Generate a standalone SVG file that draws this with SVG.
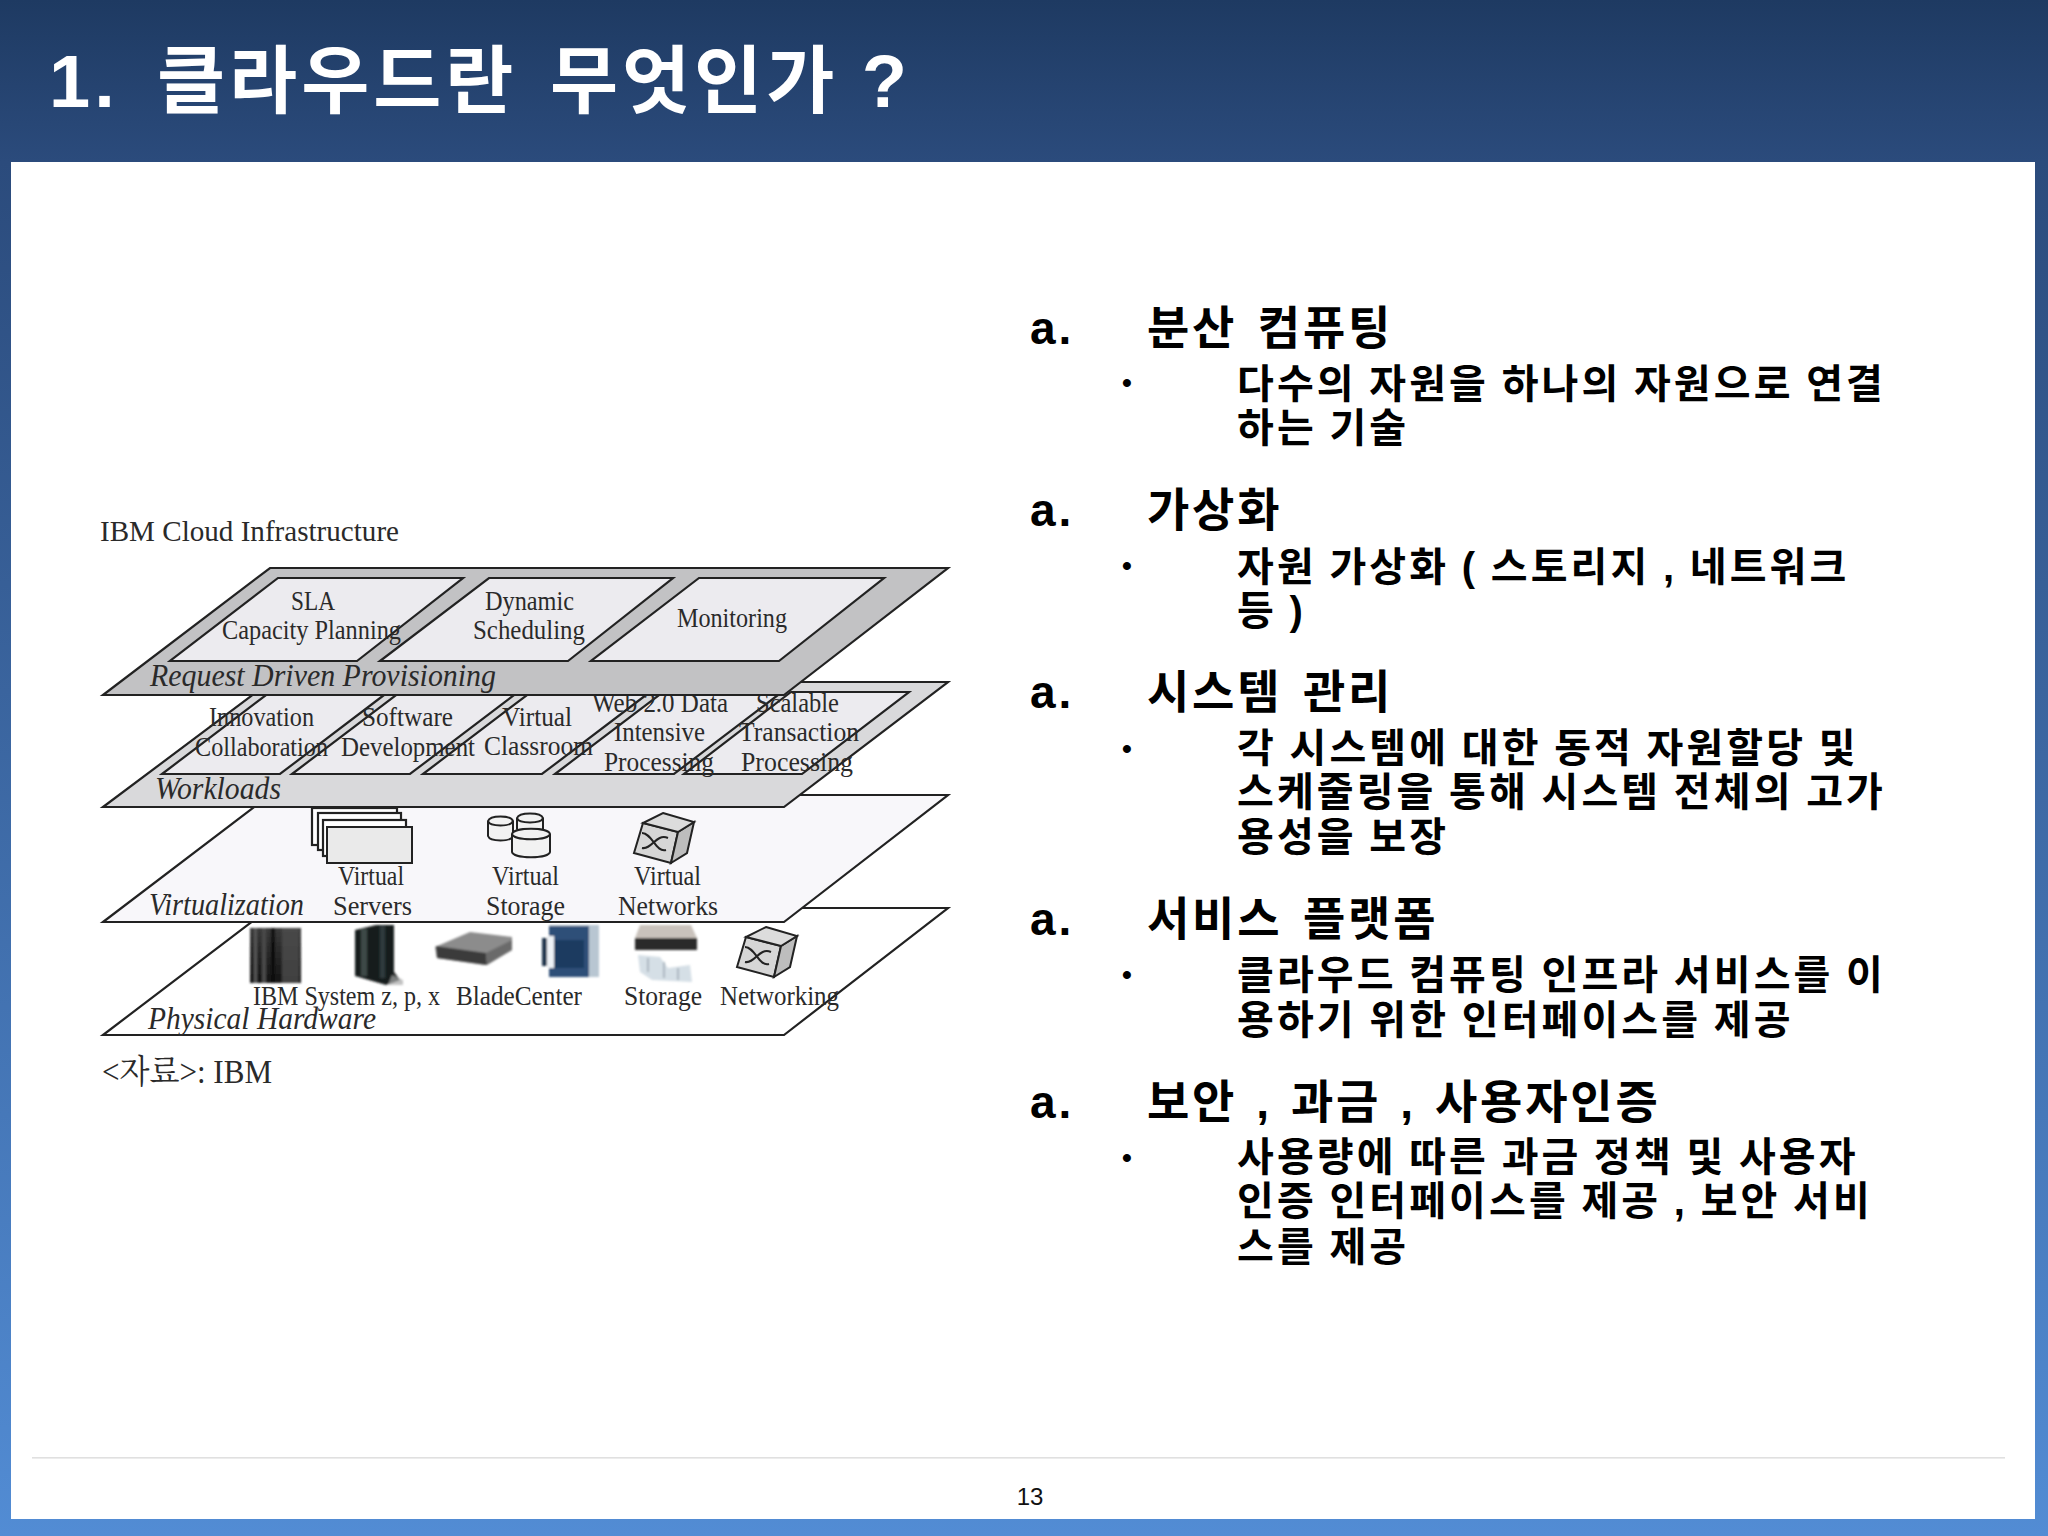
<svg xmlns="http://www.w3.org/2000/svg" width="2048" height="1536" viewBox="0 0 2048 1536">
<style>
.h{font-family:"Liberation Sans","Noto Sans CJK KR",sans-serif;font-weight:700;fill:#000}
.t{font-size:74px;fill:#fff;letter-spacing:4px;word-spacing:8px}
.hd{font-size:46px;letter-spacing:2.8px;word-spacing:5px}
.sb{font-size:40px;letter-spacing:3.1px;word-spacing:-1.6px}
.bl{font-size:28px}
.s{font-family:"Liberation Serif","Noto Serif CJK KR","Noto Sans CJK KR",serif;font-size:27px;fill:#2a2a2a}
.i{font-style:italic;font-size:31px}
.o{stroke:#222;stroke-width:2.2;stroke-linejoin:miter}
.pd{fill:#c2c2c4}.pm{fill:#d9d9db}.pl{fill:#f8f7fa}.pw{fill:#fff}.pn{fill:#ecebef;stroke:#222;stroke-width:2.2}
.ic{fill:#f2f2f2;stroke:#222;stroke-width:2}
</style>
<defs>
<linearGradient id="bg" x1="0" y1="0" x2="0" y2="1"><stop offset="0" stop-color="#1e3a62"/><stop offset=".105" stop-color="#2b4b7c"/><stop offset="1" stop-color="#528cd4"/></linearGradient>
<linearGradient id="rk" x1="0" y1="0" x2="0" y2="1"><stop offset="0" stop-color="#3a3a3a"/><stop offset=".55" stop-color="#242424"/><stop offset="1" stop-color="#141414"/></linearGradient>
<filter id="b" x="-10%" y="-10%" width="120%" height="120%"><feGaussianBlur stdDeviation="1.1"/></filter>
<g id="sw"><path class="ic" style="fill:#d6d6d6" d="M643 823L678 832L671 863L634 853Z"/><path class="ic" style="fill:#bdbdbd" d="M678 832L694 822L687 853L671 863Z"/><path class="ic" style="fill:#dcdcdc" d="M663 813L694 822L678 832L643 823Z"/><path d="M642 833C652 833 656 853 666 850M642 848C652 850 656 833 668 838" fill="none" stroke="#222" stroke-width="2"/></g>
</defs>
<rect id="background" width="2048" height="1536" fill="url(#bg)"/>
<rect id="page" x="11" y="162" width="2024" height="1357" fill="#fff"/>
<text id="title" class="h t" x="49" y="107">1.<tspan x="157">클라우드란 무엇인가<tspan dx="-9"> ?</tspan></tspan></text>

<g id="layer-physical">
<path class="pw o" d="M270 908H948L784 1035H103Z"/>
<g filter="url(#b)">
<rect x="250" y="928" width="51" height="55" fill="url(#rk)"/><rect x="254" y="928" width="3" height="55" fill="#555"/><rect x="262" y="928" width="4" height="55" fill="#4a4a4a"/><rect x="271" y="928" width="4" height="55" fill="#111"/><rect x="282" y="928" width="17" height="55" fill="#4c4c4c" opacity=".8"/>
<path d="M355 930L376 925H394V972L400 980L386 985L355 976Z" fill="#161c1b"/><rect x="361" y="929" width="6" height="47" fill="#3e4846"/><rect x="380" y="926" width="5" height="52" fill="#2e3a3c"/><path d="M392 975L403 980V985L388 985Z" fill="#aaa" opacity=".7"/>
<path d="M435 947L470 932L512 937V950L484 965L437 958Z" fill="#8c8c8c"/><path d="M436 946L486 953L487 965L437 958Z" fill="#3a3a3a"/><path d="M486 953L512 940V950L487 965Z" fill="#6a6a6a"/>
<rect x="549" y="925" width="50" height="52" fill="#b8c6d2"/><rect x="549" y="926" width="40" height="51" fill="#2f5078"/><rect x="554" y="940" width="30" height="28" fill="#1f3a60"/><rect x="547" y="936" width="7" height="32" fill="#eef2f6"/><rect x="542" y="938" width="5" height="28" fill="#22384f"/>
<path d="M640 925H691L697 938H635Z" fill="#c9c2bc"/><rect x="635" y="938" width="62" height="12" fill="#2c2c2c"/>
<path d="M638 955L660 957L668 968L690 965L692 982L652 980L640 972Z" fill="#d5dfe6"/><path d="M648 958V972M664 962V978M678 968V980" stroke="#aab6c0" stroke-width="2"/>
</g>
<use href="#sw" x="103" y="114"/>
<text class="s" x="253" y="1005" textLength="187" lengthAdjust="spacingAndGlyphs">IBM System z, p, x</text>
<text class="s" x="456" y="1005" textLength="126" lengthAdjust="spacingAndGlyphs">BladeCenter</text>
<text class="s" x="624" y="1005" textLength="78" lengthAdjust="spacingAndGlyphs">Storage</text>
<text class="s" x="720" y="1005" textLength="119" lengthAdjust="spacingAndGlyphs">Networking</text>
<text class="s i" x="148" y="1029" textLength="228" lengthAdjust="spacingAndGlyphs">Physical Hardware</text>
</g>

<g id="layer-virtualization">
<path class="pl o" d="M270 795H948L784 922H103Z"/>
<rect class="pw o" x="312" y="808" width="85" height="37"/><rect class="pw o" x="318" y="813" width="83" height="37"/><rect class="pw o" x="323" y="820" width="83" height="36"/><rect class="ic" x="327" y="827" width="85" height="36" style="fill:#eaeaea"/>
<path class="ic" d="M488 821V836C490 842 511 842 513 836V821C511 815 490 815 488 821Z"/><path class="ic" d="M517 818V829C519 834 541 834 543 829V818C541 812 519 812 517 818Z"/><path class="ic" d="M512 834V852C514 859 548 859 550 852V834C548 827 514 827 512 834Z"/><path d="M512 834C514 841 548 841 550 834M488 821C490 827 511 827 513 821M517 818C519 824 541 824 543 818" fill="none" stroke="#222" stroke-width="2"/>
<use href="#sw"/>
<text class="s" x="338" y="885" textLength="66" lengthAdjust="spacingAndGlyphs">Virtual</text>
<text class="s" x="333" y="915" textLength="79" lengthAdjust="spacingAndGlyphs">Servers</text>
<text class="s" x="492" y="885" textLength="67" lengthAdjust="spacingAndGlyphs">Virtual</text>
<text class="s" x="486" y="915" textLength="79" lengthAdjust="spacingAndGlyphs">Storage</text>
<text class="s" x="634" y="885" textLength="67" lengthAdjust="spacingAndGlyphs">Virtual</text>
<text class="s" x="618" y="915" textLength="100" lengthAdjust="spacingAndGlyphs">Networks</text>
<text class="s i" x="149" y="915" textLength="155" lengthAdjust="spacingAndGlyphs">Virtualization</text>
</g>

<g id="layer-workloads">
<path class="pm o" d="M270 682H948L784 807H103Z"/>
<path class="pn" d="M270 692H388L280 774H162Z"/><path class="pn" d="M400 692H518L410 774H292Z"/><path class="pn" d="M531 692H650L542 774H423Z"/><path class="pn" d="M663 692H782L674 774H555Z"/><path class="pn" d="M791 692H909L802 774H684Z"/>
<text class="s" x="209" y="726" textLength="105" lengthAdjust="spacingAndGlyphs">Innovation</text>
<text class="s" x="195" y="756" textLength="133" lengthAdjust="spacingAndGlyphs">Collaboration</text>
<text class="s" x="362" y="726" textLength="91" lengthAdjust="spacingAndGlyphs">Software</text>
<text class="s" x="341" y="756" textLength="134" lengthAdjust="spacingAndGlyphs">Development</text>
<text class="s" x="502" y="726" textLength="70" lengthAdjust="spacingAndGlyphs">Virtual</text>
<text class="s" x="484" y="755" textLength="109" lengthAdjust="spacingAndGlyphs">Classroom</text>
<text class="s" x="592" y="712" textLength="136" lengthAdjust="spacingAndGlyphs">Web 2.0 Data</text>
<text class="s" x="614" y="741" textLength="91" lengthAdjust="spacingAndGlyphs">Intensive</text>
<text class="s" x="604" y="771" textLength="110" lengthAdjust="spacingAndGlyphs">Processing</text>
<text class="s" x="756" y="712" textLength="83" lengthAdjust="spacingAndGlyphs">Scalable</text>
<text class="s" x="739" y="741" textLength="120" lengthAdjust="spacingAndGlyphs">Transaction</text>
<text class="s" x="741" y="771" textLength="112" lengthAdjust="spacingAndGlyphs">Processing</text>
<text class="s i" x="155" y="799" textLength="126" lengthAdjust="spacingAndGlyphs">Workloads</text>
</g>

<g id="layer-provisioning">
<path class="pd o" d="M270 568H948L784 695H103Z"/>
<path class="pn" d="M278 578H463L357 661H170Z"/><path class="pn" d="M489 578H673L568 661H380Z"/><path class="pn" d="M699 578H884L779 661H591Z"/>
<text class="s" x="291" y="610" textLength="44" lengthAdjust="spacingAndGlyphs">SLA</text>
<text class="s" x="222" y="639" textLength="179" lengthAdjust="spacingAndGlyphs">Capacity Planning</text>
<text class="s" x="485" y="610" textLength="89" lengthAdjust="spacingAndGlyphs">Dynamic</text>
<text class="s" x="473" y="639" textLength="112" lengthAdjust="spacingAndGlyphs">Scheduling</text>
<text class="s" x="677" y="627" textLength="110" lengthAdjust="spacingAndGlyphs">Monitoring</text>
<text class="s i" x="150" y="686" textLength="346" lengthAdjust="spacingAndGlyphs">Request Driven Provisioning</text>
</g>

<text id="figure-title" class="s" style="font-size:29px" x="100" y="541" textLength="299" lengthAdjust="spacingAndGlyphs">IBM Cloud Infrastructure</text>
<text id="figure-source" class="s" style="font-size:33px" x="102" y="1083" textLength="170" lengthAdjust="spacingAndGlyphs">&lt;자료&gt;: IBM</text>

<g id="section-1">
<text class="h hd" x="1030" y="344">a.</text><text class="h hd" x="1147" y="344">분산 컴퓨팅</text>
<text class="h bl" x="1122" y="392">•</text><text class="h sb" x="1237" y="398">다수의 자원을 하나의 자원으로 연결</text><text class="h sb" x="1237" y="442">하는 기술</text>
</g>
<g id="section-2">
<text class="h hd" x="1030" y="526">a.</text><text class="h hd" x="1147" y="526">가상화</text>
<text class="h bl" x="1122" y="575">•</text><text class="h sb" x="1237" y="581">자원 가상화 ( 스토리지 , 네트워크</text><text class="h sb" x="1237" y="625">등 )</text>
</g>
<g id="section-3">
<text class="h hd" x="1030" y="708">a.</text><text class="h hd" x="1147" y="708">시스템 관리</text>
<text class="h bl" x="1122" y="758">•</text><text class="h sb" x="1237" y="762">각 시스템에 대한 동적 자원할당 및</text><text class="h sb" x="1237" y="806">스케줄링을 통해 시스템 전체의 고가</text><text class="h sb" x="1237" y="851">용성을 보장</text>
</g>
<g id="section-4">
<text class="h hd" x="1030" y="935">a.</text><text class="h hd" x="1147" y="935">서비스 플랫폼</text>
<text class="h bl" x="1122" y="984">•</text><text class="h sb" x="1237" y="989">클라우드 컴퓨팅 인프라 서비스를 이</text><text class="h sb" x="1237" y="1034">용하기 위한 인터페이스를 제공</text>
</g>
<g id="section-5">
<text class="h hd" x="1030" y="1118">a.</text><text class="h hd" style="word-spacing:3.5px" x="1147" y="1118">보안 , 과금 , 사용자인증</text>
<text class="h bl" x="1122" y="1167">•</text><text class="h sb" x="1237" y="1171">사용량에 따른 과금 정책 및 사용자</text><text class="h sb" x="1237" y="1215">인증 인터페이스를 제공 , 보안 서비</text><text class="h sb" x="1237" y="1261">스를 제공</text>
</g>

<g id="footer">
<rect x="32" y="1457" width="1973" height="1.6" fill="#e0e0e0"/>
<text x="1030" y="1505" text-anchor="middle" font-family="Liberation Sans, sans-serif" font-size="24" fill="#111">13</text>
</g>
</svg>
